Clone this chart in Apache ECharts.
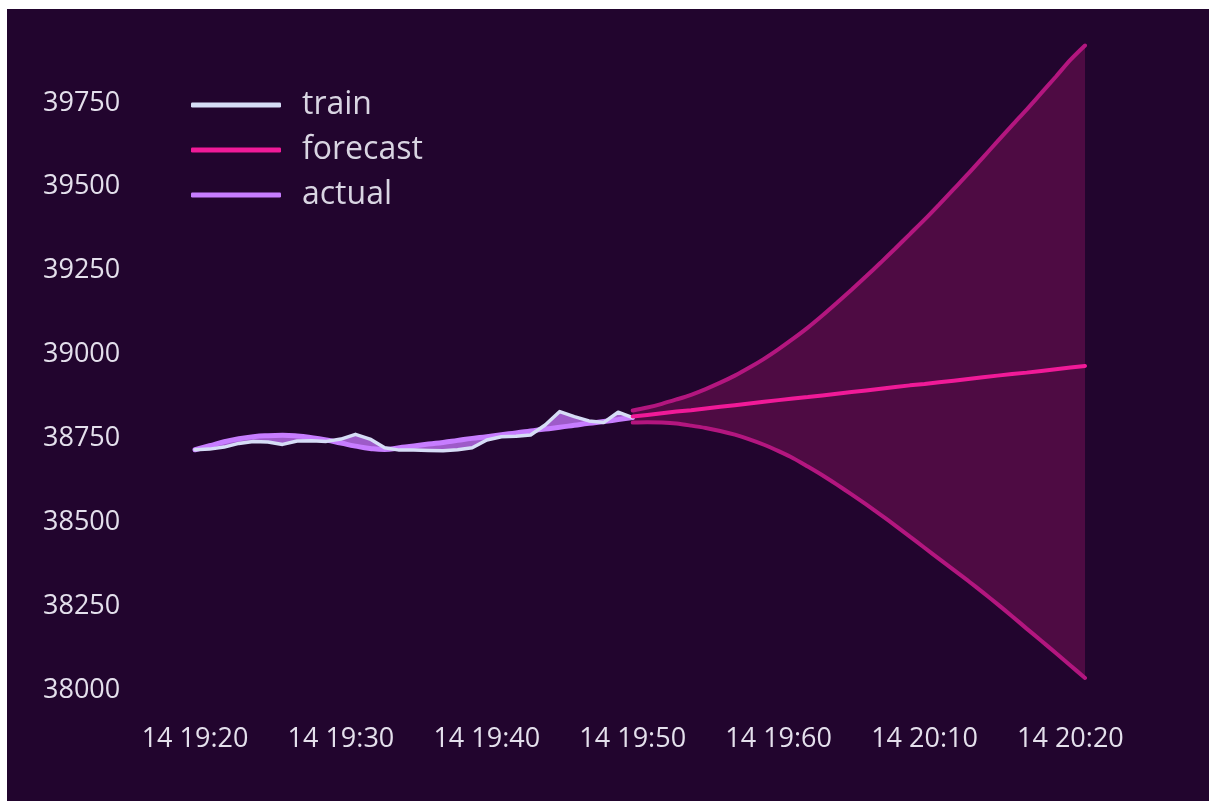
<!DOCTYPE html>
<html>
<head>
<meta charset="utf-8">
<script src="https://cdn.jsdelivr.net/npm/echarts@6/dist/echarts.min.js"></script>
<style>
    html, body { margin: 0; padding: 0; background: #ffffff; }
    #forecastChart {
        position: absolute;
        left: 7px;
        top: 9px;
        width: 1202px;
        height: 792px;
        background: #22052e;
    }
</style>
</head>
<body>
<div id="forecastChart"></div>
<script>
    // minutes since 14 19:20
    const xTickLabels = ['14 19:20', '14 19:30', '14 19:40', '14 19:50', '14 19:60', '14 20:10', '14 20:20']

    const trainMinutes = [0, 1, 2, 3, 4, 5, 6, 7, 8, 9, 10, 11, 12, 13, 14, 15, 16, 17, 18, 19, 20, 21, 22, 23, 24, 25, 26, 27, 28, 29, 30]
    const trainValues = [38716, 38718, 38724, 38735, 38741, 38739, 38732, 38742, 38743, 38741, 38748, 38762, 38748, 38722, 38715,
        38715, 38714, 38713, 38716, 38722, 38745, 38755, 38756, 38760, 38790, 38830, 38815, 38802, 38797, 38828, 38812]
    const actualValues = [38716, 38728, 38740, 38749, 38755, 38758, 38759, 38757, 38752, 38745, 38736, 38727, 38720, 38717, 38722,
        38727, 38733, 38738, 38744, 38750, 38755, 38761, 38766, 38772, 38778, 38783, 38789, 38795, 38800, 38806, 38812]

    const forecastMinutes = [30, 31, 32, 33, 34, 35, 36, 37, 38, 39, 40, 41, 42, 43, 44, 45, 46, 47, 48, 49, 50, 51, 52, 53, 54, 55, 56, 57, 58, 59, 60, 61]
    const forecastValues = [38815, 38820, 38825, 38830, 38834, 38839, 38844, 38849, 38854, 38859, 38864, 38869, 38873, 38878, 38883, 38888,
        38893, 38898, 38903, 38908, 38912, 38917, 38922, 38927, 38932, 38937, 38942, 38946, 38951, 38956, 38961, 38966]
    const upperValues = [38833, 38842, 38853, 38866, 38880, 38897, 38916, 38937, 38961, 38987, 39016, 39047, 39080, 39116, 39154, 39193,
        39233, 39274, 39316, 39359, 39402, 39447, 39493, 39539, 39587, 39635, 39683, 39730, 39779, 39828, 39878, 39921]
    const lowerValues = [38797, 38798, 38797, 38794, 38788, 38781, 38772, 38761, 38747, 38731, 38712, 38691, 38666, 38640, 38612, 38583,
        38553, 38522, 38490, 38457, 38424, 38391, 38358, 38325, 38291, 38256, 38220, 38183, 38147, 38110, 38073, 38036]

    const yTicks = [38000, 38250, 38500, 38750, 39000, 39250, 39500, 39750]

    const pair = (xs, ys) => xs.map((x, i) => [x, ys[i]])

    // polygon between two lines sharing the same x values
    const bandItem = (xs, topYs, bottomYs, fill) => (params, api) => {
        const pts = []
        xs.forEach((x, i) => pts.push(api.coord([x, topYs[i]])))
        for (let i = xs.length - 1; i >= 0; i--) pts.push(api.coord([xs[i], bottomYs[i]]))
        return {
            type: 'polygon',
            shape: { points: pts },
            style: { fill: fill }
        }
    }

    const labelColor = '#e4e0ec'
    const fontFamily = '"Open Sans", sans-serif'

    const option = {
        backgroundColor: '#22052e',
        animation: false,
        legend: {
            orient: 'vertical',
            left: 179,
            top: 75,
            icon: 'roundRect',
            itemWidth: 90,
            itemHeight: 5,
            itemGap: 13,
            data: ['train', 'forecast', 'actual'],
            textStyle: {
                color: '#d9d5e2',
                fontSize: 32,
                fontFamily: fontFamily,
                lineHeight: 32,
                padding: [0, 0, 0, 16]
            }
        },
        grid: {
            left: 188,
            right: 124,
            top: 10,
            bottom: 111
        },
        xAxis: {
            type: 'value',
            min: 0,
            max: 61,
            interval: 10,
            axisLine: { show: false },
            axisTick: { show: false },
            splitLine: { show: false },
            axisLabel: {
                color: labelColor,
                fontSize: 27,
                fontFamily: fontFamily,
                margin: 36,
                showMaxLabel: false,
                formatter: v => (v % 10 === 0 ? xTickLabels[v / 10] : '')
            }
        },
        yAxis: {
            type: 'value',
            min: yTicks[0],
            max: 40000,
            interval: 250,
            axisLine: { show: false },
            axisTick: { show: false },
            splitLine: { show: false },
            axisLabel: {
                color: labelColor,
                fontSize: 27,
                fontFamily: fontFamily,
                align: 'left',
                margin: 152,
                showMaxLabel: false,
                formatter: v => (yTicks.indexOf(v) >= 0 ? String(v) : '')
            }
        },
        series: [
            {
                name: 'band',
                type: 'custom',
                silent: true,
                z: 1,
                data: [[0, 0]],
                renderItem: bandItem(forecastMinutes, upperValues, lowerValues, '#4e0b43')
            },
            {
                name: 'gap',
                type: 'custom',
                silent: true,
                z: 1,
                data: [[0, 0]],
                renderItem: bandItem(trainMinutes, trainValues, actualValues, 'rgba(190,112,240,0.8)')
            },
            {
                name: 'upper',
                type: 'line',
                z: 3,
                smooth: 0.3,
                showSymbol: false,
                data: pair(forecastMinutes, upperValues),
                lineStyle: { color: '#b3167f', width: 4, cap: 'round' }
            },
            {
                name: 'lower',
                type: 'line',
                z: 3,
                smooth: 0.3,
                showSymbol: false,
                data: pair(forecastMinutes, lowerValues),
                lineStyle: { color: '#b3167f', width: 4, cap: 'round' }
            },
            {
                name: 'actual',
                type: 'line',
                z: 4,
                smooth: true,
                showSymbol: false,
                color: '#c77dff',
                data: pair(trainMinutes, actualValues),
                lineStyle: { color: '#c77dff', width: 5, cap: 'round' }
            },
            {
                name: 'train',
                type: 'line',
                z: 5,
                showSymbol: false,
                color: '#d6ddf6',
                data: pair(trainMinutes, trainValues),
                lineStyle: { color: '#d6ddf6', width: 3.5, cap: 'round', join: 'round' }
            },
            {
                name: 'forecast',
                type: 'line',
                z: 5,
                showSymbol: false,
                color: '#f01a98',
                data: pair(forecastMinutes, forecastValues),
                lineStyle: { color: '#f01a98', width: 4, cap: 'round' }
            }
        ]
    }

    const chart = echarts.init(document.getElementById('forecastChart'))
    chart.setOption(option)
    window.addEventListener('resize', () => chart.resize())
</script>
</body>
</html>
